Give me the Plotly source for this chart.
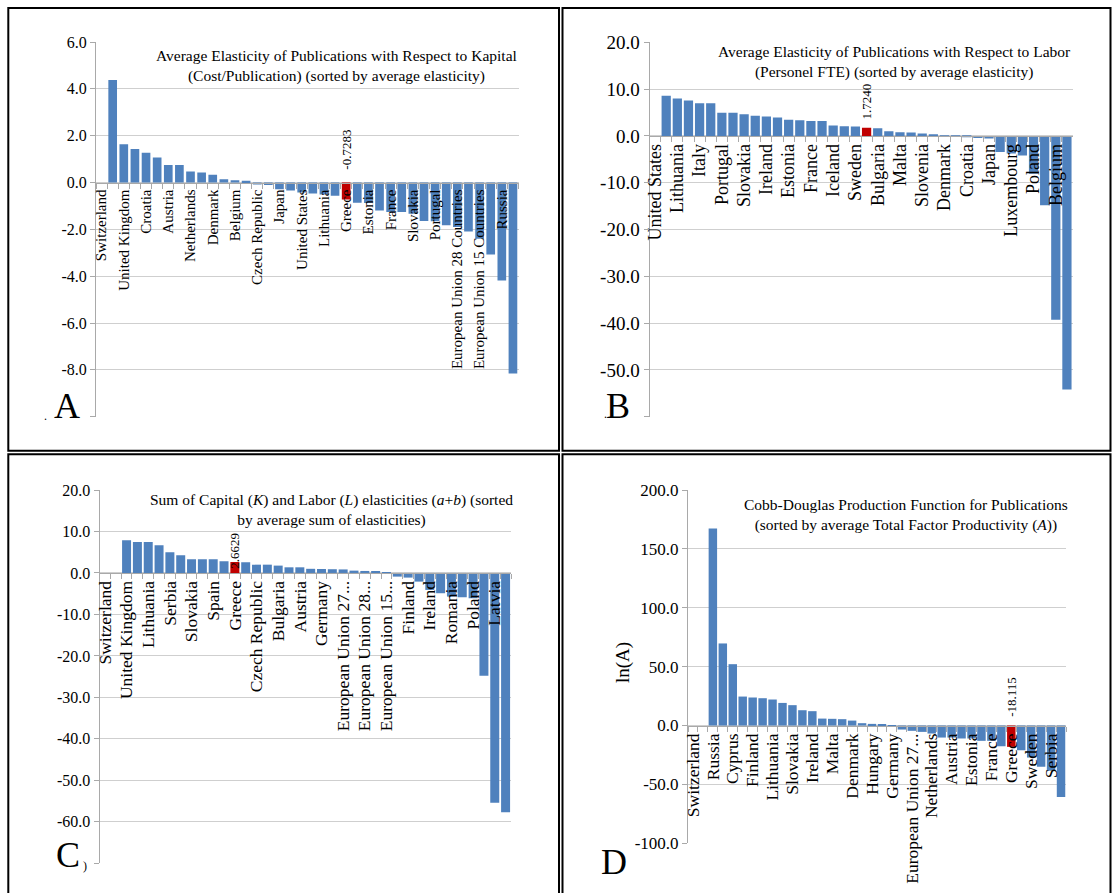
import plotly.graph_objects as go

W, H = 1113, 893
SERIF = "Liberation Serif, Times New Roman, serif"
BLUE = "#4f81bd"
RED = "#c00000"
GRID = "#cfcfcf"
AXL = "#a9a9a9"

# ---------------- Panel A: elasticity w.r.t. capital ----------------
a_countries = [
    "Switzerland", "Latvia", "United Kingdom", "Serbia", "Croatia", "Hungary",
    "Austria", "Finland", "Netherlands", "Sweden", "Denmark", "Ireland",
    "Belgium", "Iceland", "Czech Republic", "Germany", "Japan",
    "European Union 27 Countries", "United States", "Malta", "Lithuania", "Italy",
    "Greece", "Spain", "Estonia", "Slovenia", "France", "Bulgaria", "Slovakia",
    "Romania", "Portugal", "Cyprus", "European Union 28 Countries", "Norway",
    "European Union 15 Countries", "Luxembourg", "Russia", "Poland"]
a_values = [
    None, 4.38, 1.63, 1.43, 1.27, 1.07, 0.75, 0.75, 0.47, 0.43, 0.33, 0.14,
    0.10, 0.07, -0.09, -0.11, -0.29, -0.34, -0.43, -0.47, -0.51, -0.56,
    -0.7283, -0.86, -0.88, -1.19, -1.26, -1.26, -1.33, -1.64, -1.65, -1.83,
    -1.90, -2.09, -2.40, -3.07, -4.18, -8.15]
a_title = ("Average Elasticity of Publications with Respect to Kapital<br>"
           "(Cost/Publication) (sorted by average elasticity)")
a_ticks = [-10, -8, -6, -4, -2, 0, 2, 4, 6]

# ---------------- Panel B: elasticity w.r.t. labor ----------------
b_countries = [
    "United States", "Cyprus", "Lithuania", "Latvia", "Italy", "Serbia",
    "Portugal", "Romania", "Slovakia", "Hungary", "Ireland", "Finland",
    "Estonia", "Spain", "France", "Russia", "Iceland", "Czech Republic",
    "Sweden", "Greece", "Bulgaria", "Austria", "Malta", "Netherlands",
    "Slovenia", "Germany", "Denmark", "European Union 27 Countries", "Croatia",
    "European Union 28 Countries", "Japan", "European Union 15 Countries",
    "Luxembourg", "Norway", "Poland", "United Kingdom", "Belgium", "Switzerland"]
b_values = [
    None, 8.57, 8.0, 7.57, 7.0, 7.0, 4.93, 4.93, 4.64, 4.28, 4.14, 3.93,
    3.43, 3.36, 3.21, 3.21, 2.21, 2.07, 2.0, 1.724, 1.65, 1.0, 0.79, 0.72,
    0.5, 0.36, 0.05, -0.05, -0.2, -0.43, -0.57, -3.43, -3.78, -4.21, -8.07,
    -14.84, -39.3, -54.2]
b_title = ("Average Elasticity of Publications with Respect to Labor<br>"
           "(Personel FTE) (sorted by average elasticity)")
b_ticks = [-60, -50, -40, -30, -20, -10, 0, 10, 20]

# ---------------- Panel C: sum of elasticities ----------------
c_countries = [
    "Switzerland", "United States", "United Kingdom", "Italy", "Lithuania",
    "Portugal", "Serbia", "Cyprus", "Slovakia", "Estonia", "Spain", "France",
    "Greece", "Iceland", "Czech Republic", "Croatia", "Bulgaria", "Malta",
    "Austria", "Sweden", "Germany", "Netherlands", "European Union 27 Countries",
    "Denmark", "European Union 28 Countries", "Slovenia",
    "European Union 15 Countries", "Japan", "Finland", "Hungary", "Ireland",
    "Norway", "Romania", "Luxembourg", "Poland", "Russia", "Latvia", "Belgium"]
c_values = [
    None, None, 7.87, 7.46, 7.46, 6.66, 4.97, 4.25, 3.29, 3.29, 3.29, 2.81,
    2.6629, 2.57, 2.0, 2.0, 1.77, 1.36, 1.36, 1.0, 0.95, 0.9, 0.85, 0.56,
    0.48, 0.24, 0.16, -0.88, -1.12, -2.09, -4.09, -4.89, -5.70, -5.86, -6.1,
    -24.8, -55.4, -57.7]
c_short = {"European Union 27 Countries": "European Union 27...",
           "European Union 28 Countries": "European Union 28...",
           "European Union 15 Countries": "European Union 15..."}
c_title = ("Sum of Capital (<i>K</i>) and Labor (<i>L</i>) elasticities "
           "(<i>a</i>+<i>b</i>) (sorted<br>by average sum of elasticities)")
c_ticks = [-70, -60, -50, -40, -30, -20, -10, 0, 10, 20]

# ---------------- Panel D: ln(A) ----------------
d_countries = [
    "Switzerland", "United States", "Russia", "Latvia", "Cyprus", "Luxembourg",
    "Finland", "Iceland", "Lithuania", "Italy", "Slovakia", "Portugal",
    "Ireland", "Slovenia", "Malta", "Bulgaria", "Denmark", "United Kingdom",
    "Hungary", "Japan", "Germany", "European Union 28 Countries",
    "European Union 27 Countries", "European Union 15 Countries", "Netherlands",
    "Czech Republic", "Austria", "Croatia", "Estonia", "Belgium", "France",
    "Spain", "Greece", "Romania", "Sweden", "Norway", "Serbia", "Poland"]
d_values = [
    None, None, 167.4, 69.7, 52.1, 24.6, 23.8, 23.2, 22.1, 19.2, 17.3, 13.0,
    12.2, 5.9, 5.7, 5.4, 4.2, 2.0, 1.4, 0.85, 0.3, -3.4, -4.5, -5.4, -6.8,
    -10.2, -10.2, -11.0, -11.0, -13.0, -13.0, -17.6, -18.115, -21.0, -27.2,
    -35.1, -38.5, -60.6]
d_short = {"European Union 27 Countries": "European Union 27..."}
d_title = ("Cobb-Douglas Production Function for Publications<br>"
           "(sorted by average Total Factor Productivity (<i>A</i>))")
d_ticks = [-100, -50, 0, 50, 100, 150, 200]

HIGHLIGHT = "Greece"


def fx(px):
    return px / W


def fy(py):
    return 1 - py / H


panels = [
    dict(cats=a_countries, vals=a_values, ticks=a_ticks, hide=[-10], short={},
         box=(96, 518.5, 42, 416.7), xfont=15, yfont=16, gap=0.22,
         ann="-0.7283", ann_y="zero", ann_shift=11),
    dict(cats=b_countries, vals=b_values, ticks=b_ticks, hide=[-60], short={},
         box=(649.5, 1072.5, 42.3, 416.7), xfont=18, yfont=19, gap=0.17,
         ann="1.7240", ann_y="bar", ann_shift=6),
    dict(cats=c_countries, vals=c_values, ticks=c_ticks, hide=[-70], short=c_short,
         box=(99.5, 511, 490, 863.3), xfont=17.5, yfont=16, gap=0.17,
         ann="2.6629", ann_y="zero", ann_shift=2),
    dict(cats=d_countries, vals=d_values, ticks=d_ticks, hide=[], short=d_short,
         box=(688, 1066, 490, 843.3), xfont=17.5, yfont=17, gap=0.15,
         ann="-18.115", ann_y="zero", ann_shift=7),
]

fig = go.Figure()
layout = dict(width=W, height=H, autosize=False,
              margin=dict(l=0, r=0, t=0, b=0, pad=0, autoexpand=False),
              paper_bgcolor="white", plot_bgcolor="white", showlegend=False,
              font=dict(family=SERIF, color="black"), hovermode=False)
annotations = []

for i, p in enumerate(panels):
    n = "" if i == 0 else str(i + 1)
    cats, vals = p["cats"], p["vals"]
    l, r, t, b = p["box"]
    ymin, ymax = min(p["ticks"]), max(p["ticks"])
    zero_py = t + (ymax - 0) / (ymax - ymin) * (b - t)
    colors = [RED if c == HIGHLIGHT else BLUE for c in cats]
    fig.add_trace(go.Bar(x=cats, y=vals, marker=dict(color=colors, line=dict(width=0)),
                         xaxis="x" + n, yaxis="y" + n, width=1 - p["gap"]))
    ticktext = [(p["short"].get(c, c) if k % 2 == 0 else "") for k, c in enumerate(cats)]
    layout["xaxis" + n] = dict(
        domain=[fx(l), fx(r)], anchor="free", position=fy(zero_py),
        type="category", categoryorder="array", categoryarray=cats,
        range=[-0.5, len(cats) - 0.5], automargin=False,
        tickmode="array", tickvals=cats, ticktext=ticktext, tickangle=-90,
        tickson="boundaries", ticks="outside", ticklen=5, tickcolor=AXL,
        showline=True, linecolor=AXL, linewidth=1, showgrid=False,
        tickfont=dict(family=SERIF, size=p["xfont"], color="black"),
        fixedrange=True)
    ytext = ["" if v in p["hide"] else f"{v:.1f}" for v in p["ticks"]]
    layout["yaxis" + n] = dict(
        domain=[fy(b), fy(t)], anchor="x" + n, range=[ymin, ymax], automargin=False,
        tickmode="array", tickvals=p["ticks"], ticktext=ytext,
        ticks="outside", ticklen=5, tickcolor=AXL,
        showline=True, linecolor=AXL, linewidth=1,
        showgrid=True, gridcolor=GRID, gridwidth=1, zeroline=False,
        tickfont=dict(family=SERIF, size=p["yfont"], color="black"),
        fixedrange=True)
    gi = cats.index(HIGHLIGHT)
    yv = 0 if p["ann_y"] == "zero" else vals[gi]
    annotations.append(dict(
        x=HIGHLIGHT, y=yv, xref="x" + n, yref="y" + n, text=p["ann"],
        showarrow=False, textangle=-90, yanchor="bottom", xanchor="center",
        yshift=p["ann_shift"], font=dict(family=SERIF, size=13, color="black")))

# chart titles (inside plot areas)
titles = [(a_title, 336, 66), (b_title, 894, 62), (c_title, 331, 510), (d_title, 906, 514.5)]
for txt, cx, cy in titles:
    annotations.append(dict(x=fx(cx), y=fy(cy), xref="paper", yref="paper", text=txt,
                            showarrow=False, xanchor="center", yanchor="middle",
                            align="center", font=dict(family=SERIF, size=15.5, color="black")))

# y axis title for panel D
annotations.append(dict(x=fx(623), y=fy(663), xref="paper", yref="paper", text="ln(A)",
                        showarrow=False, textangle=-90, xanchor="center", yanchor="middle",
                        font=dict(family=SERIF, size=19, color="black")))

# panel letters
for letter, cx, cy in [("A", 67, 406), ("B", 618, 406), ("C", 68, 855), ("D", 614, 862)]:
    annotations.append(dict(x=fx(cx), y=fy(cy), xref="paper", yref="paper", text=letter,
                            showarrow=False, xanchor="center", yanchor="middle",
                            font=dict(family=SERIF, size=36, color="black")))
for txt, cx, cy, sz in [(".", 45, 416, 12), (".", 605, 414, 12), (")", 85, 866, 12)]:
    annotations.append(dict(x=fx(cx), y=fy(cy), xref="paper", yref="paper", text=txt,
                            showarrow=False, xanchor="center", yanchor="middle",
                            font=dict(family=SERIF, size=sz, color="black")))

layout["annotations"] = annotations

# panel frames
frames = [(8.3, 8, 559, 450.8), (562.5, 8, 1110.5, 450.8),
          (8.3, 454.3, 559, 905), (562.5, 454.3, 1110.5, 905)]
layout["shapes"] = [dict(type="rect", xref="paper", yref="paper",
                         x0=fx(x0), x1=fx(x1), y0=fy(y1), y1=fy(y0),
                         line=dict(color="black", width=2), fillcolor="rgba(0,0,0,0)")
                    for x0, y0, x1, y1 in frames]

fig.update_layout(**layout)
fig.write_html("out.html", config={"displayModeBar": False})
